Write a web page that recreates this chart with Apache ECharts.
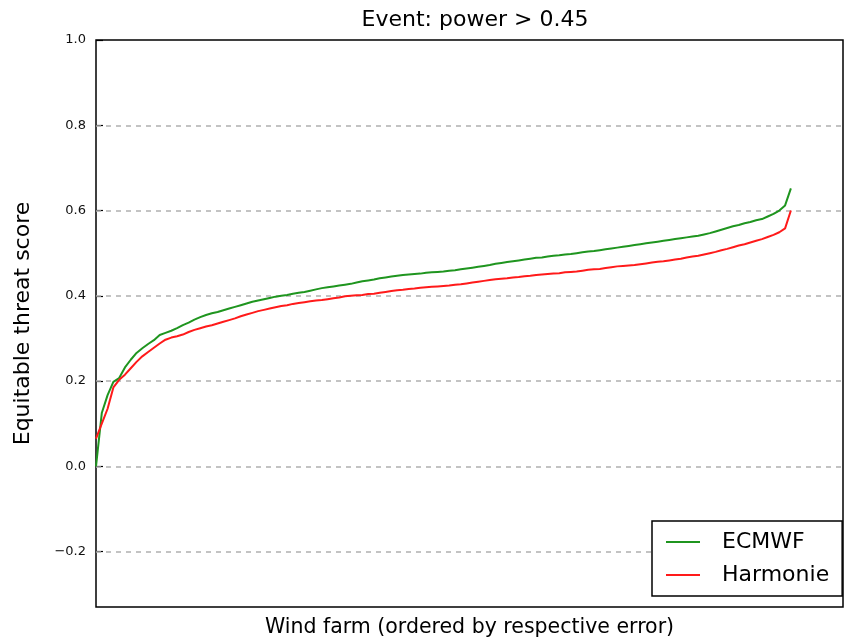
<!DOCTYPE html>
<html>
<head>
<meta charset="utf-8">
<script src="https://cdn.jsdelivr.net/npm/echarts@6/dist/echarts.min.js"></script>
<style>html,body{margin:0;padding:0;background:#fff;}#chart{width:845px;height:638px;}</style>
</head>
<body>
<div id="chart"></div>
<script>
var titleText = 'Event: power > 0.45';
var yTickValues = [-0.2, 0.0, 0.2, 0.4, 0.6, 0.8, 1.0];
var gridValues = [-0.2, 0.0, 0.2, 0.4, 0.6, 0.8];
var seriesNames = ['ECMWF', 'Harmonie'];

var ecmwf = [
0.000,0.125,0.167,0.198,0.207,0.232,0.250,0.266,0.277,0.287,
0.296,0.308,0.313,0.318,0.324,0.331,0.337,0.344,0.350,0.355,
0.359,0.362,0.366,0.370,0.374,0.378,0.382,0.386,0.389,0.392,
0.395,0.398,0.400,0.402,0.405,0.407,0.409,0.412,0.415,0.418,
0.420,0.422,0.424,0.426,0.428,0.431,0.434,0.436,0.438,0.441,
0.443,0.445,0.447,0.449,0.450,0.451,0.452,0.454,0.455,0.456,
0.457,0.459,0.460,0.462,0.464,0.466,0.468,0.470,0.472,0.475,
0.477,0.479,0.481,0.483,0.485,0.487,0.489,0.490,0.492,0.494,
0.495,0.497,0.498,0.500,0.502,0.504,0.505,0.507,0.509,0.511,
0.513,0.515,0.517,0.519,0.521,0.523,0.525,0.527,0.529,0.531,
0.533,0.535,0.537,0.539,0.541,0.544,0.547,0.551,0.555,0.559,
0.563,0.566,0.570,0.573,0.577,0.580,0.586,0.592,0.600,0.612,
0.652];

var harmonie = [
0.065,0.100,0.135,0.185,0.203,0.215,0.230,0.245,0.258,0.268,
0.278,0.288,0.297,0.302,0.305,0.309,0.315,0.320,0.324,0.328,
0.331,0.335,0.339,0.343,0.347,0.352,0.356,0.360,0.364,0.367,
0.370,0.373,0.376,0.378,0.381,0.383,0.385,0.387,0.389,0.390,
0.392,0.394,0.396,0.399,0.400,0.401,0.402,0.404,0.405,0.407,
0.409,0.411,0.413,0.414,0.416,0.417,0.419,0.420,0.421,0.422,
0.423,0.424,0.426,0.427,0.429,0.431,0.433,0.435,0.437,0.439,
0.440,0.441,0.443,0.444,0.446,0.447,0.449,0.450,0.451,0.452,
0.453,0.455,0.456,0.457,0.459,0.461,0.462,0.463,0.465,0.467,
0.469,0.470,0.471,0.472,0.474,0.476,0.478,0.480,0.481,0.483,
0.485,0.487,0.490,0.492,0.494,0.497,0.500,0.503,0.507,0.510,
0.514,0.518,0.521,0.525,0.529,0.533,0.538,0.543,0.549,0.558,
0.600];

function toPairs(arr){ return arr.map(function(v,i){ return [i, v]; }); }

var FONT = 'DejaVu Sans';
var chart = echarts.init(document.getElementById('chart'), null, {renderer:'canvas'});
chart.setOption({
  animation: false,
  backgroundColor: '#ffffff',
  textStyle: {fontFamily: FONT},
  title: {
    text: titleText, left: 470, textAlign: 'center', top: 4,
    textStyle: {fontFamily: FONT, fontSize: 22, fontWeight: 'normal', color: '#000'}
  },
  grid: {left: 96, right: 2, top: 40, bottom: 31, outerBoundsMode: 'none', containLabel: false,
    show: true, borderColor: '#000', borderWidth: 1.5, backgroundColor: 'transparent'},
  legend: {
    data: seriesNames, orient: 'vertical', left: 652, top: 521,
    icon: 'rect', itemWidth: 34, itemHeight: 2, itemGap: 11,
    padding: [10, 13, 10, 14],
    borderColor: '#000', borderWidth: 1.5, backgroundColor: '#fff',
    textStyle: {fontFamily: FONT, fontSize: 22, color: '#000', padding: [0, 0, 0, 17]}
  },
  xAxis: {
    type: 'value', min: 0, max: 129,
    name: 'Wind farm (ordered by respective error)', nameLocation: 'middle', nameGap: 10,
    nameTextStyle: {fontFamily: FONT, fontSize: 20.5, color: '#000', verticalAlign: 'top'},
    axisLine: {show: false}, axisTick: {show: false}, axisLabel: {show: false}, splitLine: {show: false}
  },
  yAxis: {
    type: 'value', min: -0.33, max: 1.0,
    name: 'Equitable threat score', nameLocation: 'middle', nameGap: 62, nameRotate: 90,
    nameTextStyle: {fontFamily: FONT, fontSize: 22, color: '#000'},
    axisLine: {show: false},
    axisTick: {show: true, inside: true, length: 7, customValues: yTickValues, lineStyle: {color: '#000', width: 1.2}},
    axisLabel: {show: true, customValues: yTickValues, margin: 10, fontFamily: FONT, fontSize: 13, color: '#111',
      formatter: function(v){ var s = Number(v).toFixed(1); return s.replace('-', '\u2212'); }},
    splitLine: {show: false}
  },
  series: [
    {
      name: seriesNames[0], type: 'line', data: toPairs(ecmwf), showSymbol: false, symbol: 'none',
      lineStyle: {color: '#1f951f', width: 2}, itemStyle: {color: '#1f951f'}, z: 3,
      markLine: {
        silent: true, symbol: 'none', label: {show: false}, z: 1,
        lineStyle: {color: '#b0b0b0', type: [5, 5], width: 1.5},
        data: gridValues.map(function(v){ return {yAxis: v}; })
      }
    },
    {
      name: seriesNames[1], type: 'line', data: toPairs(harmonie), showSymbol: false, symbol: 'none',
      lineStyle: {color: '#ff1a1a', width: 2}, itemStyle: {color: '#ff1a1a'}, z: 4
    }
  ]
});
</script>
</body>
</html>
